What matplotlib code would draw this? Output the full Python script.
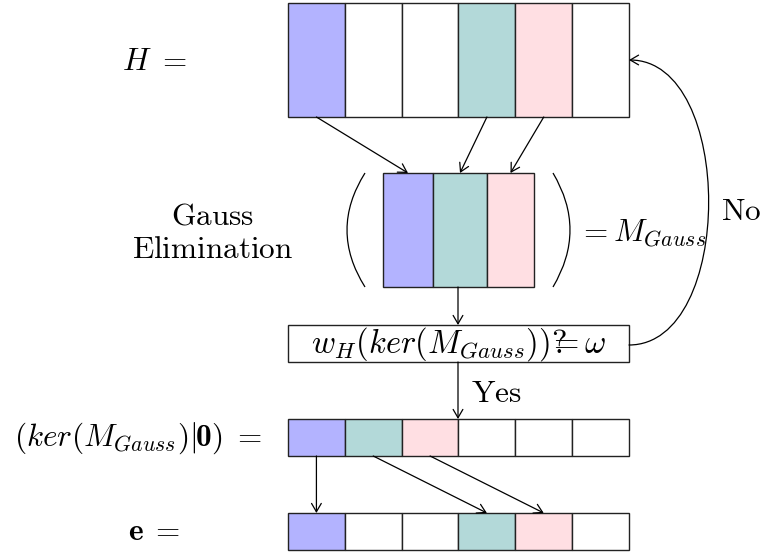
import matplotlib
matplotlib.use("Agg")
import matplotlib.pyplot as plt
from matplotlib.patches import Rectangle, FancyArrowPatch, PathPatch
from matplotlib.path import Path

plt.rcParams['mathtext.fontset'] = 'cm'

# ---- data ----
palette = {'blue': '#B3B3FF', 'teal': '#B3D9D9', 'pink': '#FFDFE3', 'white': '#FFFFFF'}
h_colors = ['blue', 'white', 'white', 'teal', 'pink', 'white']
gauss_colors = ['blue', 'teal', 'pink']
kernel_colors = ['blue', 'teal', 'pink', 'white', 'white', 'white']
e_colors = ['blue', 'white', 'white', 'teal', 'pink', 'white']
h_to_gauss = [(0, 0), (3, 1), (4, 2)]
kernel_to_e = [(0, 0), (1, 3), (2, 4)]
label_H = r'$H\ =$'
label_gauss = [r'$\mathrm{Gauss}$', r'$\mathrm{Elimination}$']
label_mgauss = r'$=M_{Gauss}$'
label_test = r'$w_H(ker(M_{Gauss}))?\!\!\!\!=\omega$'
label_yes = r'$\mathrm{Yes}$'
label_no = r'$\mathrm{No}$'
label_kernel_parts = [r'$(ker(M_{Gauss})|$', '0', r'$)\ =$']
label_e = r'$\mathbf{e}\;=$'

FS = 22.5
LW = 1.0
EC = '#222222'

fig = plt.figure(figsize=(7.63, 5.56), dpi=100)
ax = fig.add_axes([0, 0, 1, 1])
ax.set_xlim(0, 763)
ax.set_ylim(556, 0)
ax.axis('off')


def row(x0, y0, widths, h, colors):
    edges = [x0]
    for w, c in zip(widths, colors):
        ax.add_patch(Rectangle((edges[-1], y0), w, h, facecolor=palette[c],
                               edgecolor=EC, lw=LW))
        edges.append(edges[-1] + w)
    return edges


def arrow(p0, p1):
    ax.add_patch(FancyArrowPatch(p0, p1, arrowstyle='->,head_length=6,head_width=3.5',
                                 mutation_scale=1, lw=0.9, color='black',
                                 shrinkA=0, shrinkB=0))


# H matrix
hw = [341 / 6] * 6
h_edges = row(288, 3, hw, 114, h_colors)
# Gauss matrix
gw = [50, 54, 47]
g_edges = row(383, 173, gw, 114, gauss_colors)
# kernel row and e row
k_edges = row(288, 419, hw, 37, kernel_colors)
e_edges = row(288, 513, hw, 37, e_colors)

cen = lambda ed, i: (ed[i] + ed[i + 1]) / 2

for a, b in h_to_gauss:
    arrow((cen(h_edges, a), 117), (cen(g_edges, b), 173))
for a, b in kernel_to_e:
    arrow((cen(k_edges, a), 456), (cen(e_edges, b), 513))

# parentheses
for xe, cx in [(365, 329), (553, 587)]:
    p = Path([(xe, 173), (cx, 230), (xe, 287)], [Path.MOVETO, Path.CURVE3, Path.CURVE3])
    ax.add_patch(PathPatch(p, facecolor='none', edgecolor='black', lw=0.9))

# test box
ax.add_patch(Rectangle((288, 325), 341, 37, facecolor='white', edgecolor=EC, lw=LW))
ax.text(459, 344, label_test, fontsize=23.5, ha='center', va='center')
arrow((458, 287), (458, 325))
arrow((458, 362), (458, 419))
ax.text(471, 393, label_yes, fontsize=FS, ha='left', va='center')

# No loop
loop = Path([(629, 345), (735, 345), (735, 60), (629, 60)],
            [Path.MOVETO, Path.CURVE4, Path.CURVE4, Path.CURVE4])
ax.add_patch(FancyArrowPatch(path=loop, arrowstyle='->,head_length=6,head_width=3.5',
                             mutation_scale=1, lw=0.9, color='black'))
ax.text(721, 212, label_no, fontsize=FS, ha='left', va='center')

# labels
ax.text(187, 61, label_H, fontsize=FS, ha='right', va='center')
ax.text(213, 216, label_gauss[0], fontsize=FS, ha='center', va='center')
ax.text(213, 249, label_gauss[1], fontsize=FS, ha='center', va='center')
ax.text(578, 233, label_mgauss, fontsize=FS, ha='left', va='center')
ax.text(180, 540, label_e, fontsize=FS, ha='right', va='baseline')

# kernel label composed of pieces so that the 0 is bold
renderer = fig.canvas.get_renderer()
yb = 446
xr = 262
t = ax.text(xr, yb, label_kernel_parts[2], fontsize=FS, ha='right', va='baseline')
xr = t.get_window_extent(renderer).x0 + 1
t = ax.text(xr, yb, label_kernel_parts[1], fontsize=FS, family='cmb10',
            ha='right', va='baseline')
xr = t.get_window_extent(renderer).x0 + 0.5
ax.text(xr, yb, label_kernel_parts[0], fontsize=FS, ha='right', va='baseline')

fig.savefig('out.png', dpi=100)
